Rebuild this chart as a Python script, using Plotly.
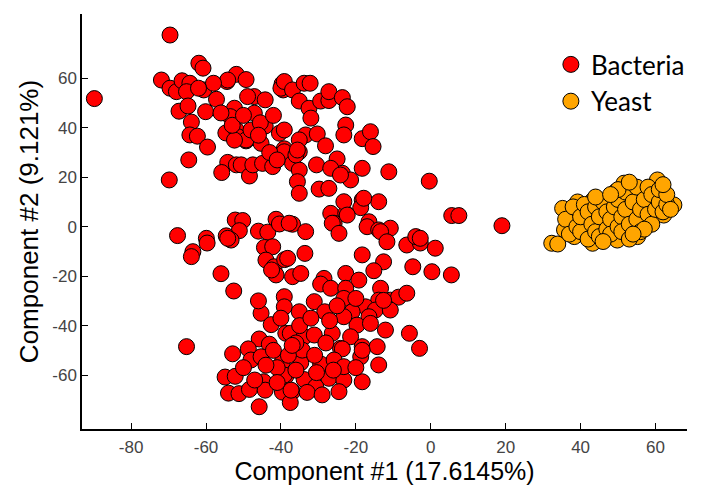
import plotly.graph_objects as go

# Bacteria points (Component #1, Component #2)
bact_x = [-89.8,-69.6,-71.9,-69.6,-67.9,-66.4,-64.3,-65.2,-61.9,-60.8,-60.6,-57.2,-54.4,-51.9,-49.3,-54.2,-47.1,-48.9,-44.2,-39.7,-39.4,
          -67.2,-64.8,-60.1,-52.4,-53.5,-47.1,-44.2,-40.4,-63.9,-64.3,-62.3,-59.6,-54.7,-51.9,-49.3,-45.3,-39.1,-64.6,-69.8,-54.2,-55.8,
          -51.9,-50.6,-48.4,-47.5,-44.9,-42.2,-39.1,-35.1,-36.9,-51.5,-49.3,-48.0,-52.4,-40.0,-39.1,-36.9,-33.8,-32.2,-35.1,-32.5,-32.0,
          -29.4,-27.2,-27.2,-23.6,-22.3,-22.7,-23.2,-18.3,-16.1,-15.4,-11.2,-0.4,-33.4,-30.3,-28.1,-25.0,-23.6,-21.4,-18.3,-35.1,-35.1,
          -35.6,-35.1,-29.8,-27.2,-30.5,-36.0,-26.7,-24.1,-39.1,-35.6,-45.5,-42.0,-43.0,-41.0,-46.0,-58.0,-62.0,-56.0,-53.0,-50.0,
          -26.7,-22.7,-23.2,-18.3,-18.7,-13.9,-17.9,-25.8,-22.3,-26.3,-16.5,-17.0,-13.9,-10.8,-24.5,-13.4,-11.7,-6.4,-2.8,1.2,-4.0,-2.8,
          5.6,7.5,19.0,-52.2,-50.2,-51.1,-54.6,-53.3,-54.2,-46.0,-43.5,-41.3,-40.4,-36.9,-37.8,-33.4,-59.9,-67.6,-63.5,-63.9,-59.7,-56.0,
          -52.6,-44.4,-42.2,-44.0,-41.8,-39.0,-41.3,-42.5,-36.9,-34.7,-33.6,-38.2,-28.5,-22.7,-19.2,-18.3,-12.6,-15.2,-4.8,0.3,5.5,
          -29.4,-26.7,-22.7,-23.2,-13.4,-13.9,-17.4,-14.8,-10.8,-8.6,-6.4,-10.8,-12.6,-39.1,-39.1,-35.1,-31.1,-28.3,-21.0,-16.5,-12.1,
          -19.7,-23.2,-16.1,
          -65.2,-52.9,-54.9,-52.2,-54.0,-51.2,-48.4,-45.3,-42.6,-45.8,-43.1,-48.7,-48.0,-45.3,-38.7,-39.6,-44.6,-44.2,-45.8,-39.6,-38.7,
          -37.5,-33.8,-31.1,-26.3,-21.4,-18.3,-13.9,-24.1,-29.4,-34.7,-39.1,-33.8,-27.2,-23.2,-18.3,-24.5,-30.7,-36.9,-37.5,-5.7,-3.0,
          -14.3,-18.7,-23.6,-34.3,-25.8,-23.2,-18.3,-37.3,-30.5,-36.0,-41.0,-42.0,-36.0,-28.0,-31.0,-26.0,-20.0,-33.0,-29.0,-35.0,-40.0,
          -27.0,-32.0,-25.0,-20.0,-46.0,-44.0,-50.0,-47.0,-41.0,-38.0,-37.0]
bact_y = [51.8,77.5,59.3,56.0,54.6,59.0,58.0,54.6,66.1,64.1,55.3,51.5,58.7,61.6,59.5,59.3,52.6,52.6,51.3,57.7,55.3,
          46.7,48.8,46.5,47.9,44.5,45.9,40.7,37.8,42.3,37.1,36.6,32.2,37.9,39.1,34.7,33.7,31.5,27.0,18.9,26.0,21.9,
          25.0,25.0,20.5,25.0,25.6,24.3,30.3,30.3,25.6,36.4,35.1,39.1,35.0,56.0,58.7,55.3,58.0,58.0,50.8,47.9,43.9,
          50.8,51.0,54.6,52.2,48.5,41.1,37.1,35.6,38.4,32.4,22.2,18.4,37.1,37.5,32.7,27.4,21.6,18.9,23.6,35.1,22.9,
          18.2,13.5,15.2,15.5,25.0,29.0,23.6,20.9,39.1,31.0,42.0,45.0,30.0,27.0,37.0,58.0,56.0,46.0,41.0,45.0,
          5.4,5.4,10.1,10.8,7.7,10.1,11.5,1.4,4.7,1.4,2.0,0.0,-1.3,-0.6,-2.7,-2.0,-6.1,-7.4,-6.6,-8.7,-4.0,-4.7,
          4.5,4.5,0.4,2.7,2.5,-1.6,-3.7,-5.4,-4.7,-1.8,-2.2,3.0,1.1,1.0,1.4,-2.0,-4.7,-3.6,-10.1,-12.1,-6.6,-19.0,
          -26.0,-8.4,-8.1,-13.5,-16.2,-13.3,-19.5,-17.5,-20.2,-18.9,-10.8,-12.8,-20.9,-18.9,-21.6,-11.4,-14.2,-17.8,-16.2,-18.2,-19.5,
          -23.2,-24.9,-24.9,-29.0,-24.9,-29.7,-32.4,-33.7,-29.7,-28.5,-26.9,-33.7,-29.8,-28.3,-32.4,-34.4,-30.3,-34.4,-34.4,-36.4,-41.8,
          -39.8,-36.4,-39.1,
          -48.5,-51.4,-60.8,-60.5,-67.3,-67.5,-65.8,-35.0,-39.6,-45.4,-47.5,-49.4,-53.9,-52.6,-43.1,-54.6,-62.7,-66.1,-72.8,-66.9,-60.5,
          -43.1,-44.5,-43.8,-43.1,-44.5,-48.5,-55.9,-49.2,-55.5,-55.0,-60.0,-61.8,-61.3,-62.0,-62.7,-66.7,-64.7,-66.7,-71.1,-43.1,-49.2,
          -48.5,-52.6,-49.4,-49.9,-53.9,-56.6,-50.0,-66.1,-59.0,-58.0,-57.0,-50.0,-47.0,-47.0,-52.0,-58.0,-57.0,-67.0,-68.0,-40.0,-37.0,
          -38.0,-37.0,-32.0,-29.0,-30.0,-56.0,-57.0,-62.0,-63.0,-52.0,-48.0]

# Yeast points
yeast_x = [32.3,33.9,35.2,35.7,37.4,38.8,38.3,40.1,43.2,41.9,42.3,43.2,45.4,46.3,46.7,49.0,49.8,49.4,51.6,49.8,52.5,55.2,53.8,54.7,
           57.4,58.3,60.5,59.6,62.2,64.9,61.3,56.9,48.1,39.2,
           36,37,38,39,40,40,41,42,42,43,44,44,45,45,46,47,47,48,48,49,50,50,51,51,52,52,53,53,54,55,55,56,56,57,58,58,59,59,60,61,
           61,62,63,63,64,62,57,54,46,44,50,53,48]
yeast_y = [-6.7,-7.0,7.4,-1.3,2.7,3.4,-4.0,6.8,10.5,2.7,-3.4,-6.7,6.8,1.4,-4.0,12.1,5.4,14.2,17.6,-5.4,-1.3,-4.0,2.7,5.4,
           14.8,12.1,18.9,8.1,4.7,8.8,12.1,1.4,10.1,10.0,
           3,-3,8,0,-2,4,9,-5,6,1,-2,8,4,-4,10,-1,6,3,-3,8,0,11,4,-2,14,7,1,-5,10,3,16,7,-2,11,5,16,1,13,7,10,
           15,6,9,13,7,17,-1,-3,-6,12,15,18,13]

x_ticks = [-80, -60, -40, -20, 0, 20, 40, 60]
x_ticktext = ["-80", "-60", "-40", "-20", "0", "20", "40", "60"]
y_ticks = [-60, -40, -20, 0, 20, 40, 60]
y_ticktext = ["-60", "-40", "-20", "0", "20", "40", "60"]

fig = go.Figure()
fig.add_trace(go.Scatter(x=bact_x, y=bact_y, mode="markers", name="Bacteria", legendgroup="b",
                         marker=dict(color="#FF0000", size=16, line=dict(color="black", width=1))))
fig.add_trace(go.Scatter(x=yeast_x, y=yeast_y, mode="markers", name="Yeast", legendgroup="y",
                         marker=dict(color="#FFA500", size=16, line=dict(color="black", width=1))))

axis_common = dict(showgrid=False, zeroline=False, showline=True, linecolor="black", linewidth=1.5,
                   ticks="inside", ticklen=6, tickcolor="black", tickwidth=1,
                   tickfont=dict(family="Arial", size=17, color="#444444"),
                   mirror=False, automargin=False)

fig.update_layout(
    width=701, height=485,
    margin=dict(l=82, r=11, t=14, b=56),
    paper_bgcolor="white", plot_bgcolor="white",
    xaxis=dict(range=[-93.1, 68.4], tickvals=x_ticks, ticktext=x_ticktext, ticklabelstandoff=2,
               title=dict(text="Component #1 (17.6145%)", font=dict(family="Arial", size=25, color="black"), standoff=7),
               **axis_common),
    yaxis=dict(range=[-81.8, 86], tickvals=y_ticks, ticktext=y_ticktext, ticklabelstandoff=0,
               title=dict(text="Component #2 (9.121%)", font=dict(family="Arial", size=26, color="black"), standoff=6),
               **axis_common),
    legend=dict(x=0.775, y=0.935, xanchor="left", yanchor="top", bgcolor="rgba(0,0,0,0)",
                font=dict(family="Lato", size=26, color="black"),
                traceorder="grouped", tracegroupgap=0),
    showlegend=True,
)

fig.write_html("out.html")
